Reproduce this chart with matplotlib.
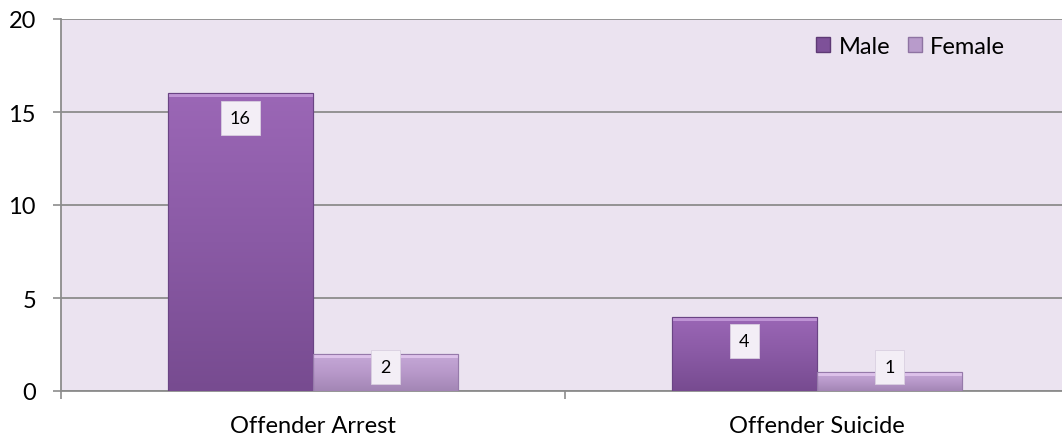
import numpy as np
import matplotlib
matplotlib.use("Agg")
import matplotlib.pyplot as plt
from matplotlib.patches import Rectangle, Patch
from matplotlib.colors import LinearSegmentedColormap

categories = ["Offender Arrest", "Offender Suicide"]
series_names = ["Male", "Female"]
male = [16, 4]
female = [2, 1]
yticks = [0, 5, 10, 15, 20]

plt.rcParams['font.family'] = ['Lato', 'DejaVu Sans']

W, H = 1062, 439
fig = plt.figure(figsize=(W/100, H/100), dpi=100)
ax = fig.add_axes([61/W, 47/H, 1008/W, 372/H])
ax.set_facecolor('#EBE3F0')

x = np.arange(len(categories))
w = 0.288
male_cmap = LinearSegmentedColormap.from_list('m', ['#774B90', '#8A5AA5', '#9B67B6'])
fem_cmap = LinearSegmentedColormap.from_list('f', ['#A386B5', '#B899CA', '#C6A9D8'])

bars_m = ax.bar(x - w/2, male, w, color='#8A5AA5', edgecolor='#6A4484', linewidth=0.8, zorder=3)
bars_f = ax.bar(x + w/2, female, w, color='#BA9ACB', edgecolor='#967AAA', linewidth=0.8, zorder=3)

grad = np.linspace(0, 1, 256).reshape(-1, 1)
for bars, cmap, hl in ((bars_m, male_cmap, '#D9B4EC'), (bars_f, fem_cmap, '#F0D6FA')):
    for b in bars:
        x0, y0 = b.get_x(), b.get_y()
        bw, bh = b.get_width(), b.get_height()
        im = ax.imshow(grad, cmap=cmap, aspect='auto', origin='lower',
                       extent=[x0, x0 + bw, y0, y0 + bh], zorder=3.5)
        im.set_clip_path(b)
        ax.add_patch(Rectangle((x0, y0 + bh - 0.22), bw, 0.22, facecolor=hl,
                               alpha=0.6, edgecolor='none', zorder=3.6))
        ax.add_patch(Rectangle((x0, y0), bw, bh, facecolor='none',
                               edgecolor=b.get_edgecolor(), linewidth=0.8, zorder=3.7))

# data labels
for bars, vals in ((bars_m, male), (bars_f, female)):
    for b, v in zip(bars, vals):
        cx = b.get_x() + b.get_width()/2
        ly = max(v - 1.3, 1.3)
        ax.text(cx, ly, str(v), ha='center', va='center', fontsize=13, color='#000000',
                zorder=5,
                bbox=dict(boxstyle='square,pad=0.5', facecolor='#F3EEF6',
                          edgecolor='#D9CFE0', linewidth=0.6))

ax.set_xlim(-0.5, 1.5)
ax.set_ylim(0, 20)
ax.set_yticks(yticks)
ax.set_yticklabels([str(t) for t in yticks], fontsize=17)
ax.set_xticks(x)
ax.set_xticklabels(categories, fontsize=17)
ax.set_xticks([-0.5, 0.5, 1.5], minor=True)
ax.tick_params(axis='x', which='major', length=0, pad=17.5)
ax.tick_params(axis='x', which='minor', length=6, color='#8C8C8C', width=1.2)
ax.tick_params(axis='y', length=6, color='#8C8C8C', width=1.2, pad=12)
ax.yaxis.grid(True, color='#8C8C8C', linewidth=1.3, zorder=1)
ax.set_axisbelow(True)
for s in ['top', 'right']:
    ax.spines[s].set_visible(False)
for s in ['left', 'bottom']:
    ax.spines[s].set_color('#8C8C8C')
    ax.spines[s].set_linewidth(1.3)

handles = [Patch(facecolor='#7E5199', edgecolor='#5E3A75'),
           Patch(facecolor='#B89BCB', edgecolor='#8E73A2')]
leg = ax.legend(handles, series_names, loc='center left',
                bbox_to_anchor=((816 - 61)/1008, (392 - 47)/372),
                ncol=2, frameon=False, fontsize=17, handlelength=0.6, handleheight=0.6,
                handletextpad=0.35, columnspacing=0.75, borderpad=0, borderaxespad=0)

fig.savefig('out.png', dpi=100, facecolor='white')
